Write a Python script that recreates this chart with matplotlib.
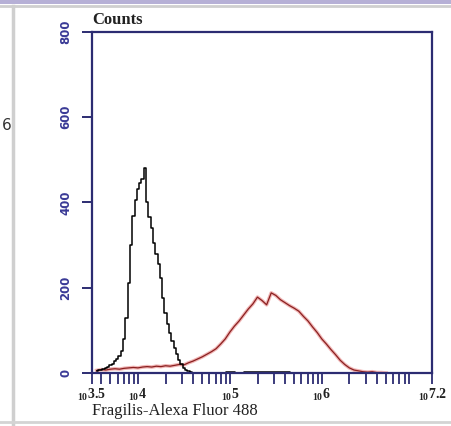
import numpy as np
import matplotlib
matplotlib.use('Agg')
import matplotlib.pyplot as plt
from matplotlib.lines import Line2D
from matplotlib.patches import Rectangle

plt.rcParams['mathtext.fontset'] = 'custom'
plt.rcParams['mathtext.rm'] = 'Liberation Serif'
plt.rcParams['mathtext.bf'] = 'Liberation Serif:bold'

# black histogram (control), log10 of intensity vs counts
black_log = [3.550, 3.575, 3.600, 3.625, 3.650, 3.675, 3.700, 3.725, 3.750, 3.775,
             3.800, 3.825, 3.850, 3.875, 3.900, 3.925, 3.950, 3.975, 4.000, 4.025,
             4.050, 4.075, 4.100, 4.125, 4.150, 4.175, 4.200, 4.225, 4.250, 4.275,
             4.300, 4.325, 4.350, 4.375, 4.400, 4.425, 4.450, 4.475, 4.500, 4.525,
             4.550, 4.575, 4.600, 4.700, 4.800, 4.900, 5.000, 5.100, 5.200, 5.300,
             5.400, 5.500, 5.600, 5.700, 5.800, 5.900, 6.000]
black_counts = [5, 6, 8, 10, 12, 15, 19, 22, 27, 33,
                40, 52, 80, 130, 210, 300, 368, 405, 432, 445,
                455, 482, 400, 365, 340, 305, 280, 255, 222, 175,
                140, 115, 95, 75, 58, 45, 30, 20, 12, 7,
                4, 2, 1, 1, 0, 1, 2, 1, 3, 2,
                3, 2, 2, 1, 1, 0, 0]

# red histogram (Fragilis stained)
red_log = [3.55, 3.60, 3.65, 3.70, 3.75, 3.80, 3.85, 3.90, 3.95, 4.00,
           4.05, 4.10, 4.15, 4.20, 4.25, 4.30, 4.35, 4.40, 4.45, 4.50,
           4.55, 4.60, 4.65, 4.70, 4.75, 4.80, 4.85, 4.90, 4.95, 5.00,
           5.05, 5.10, 5.15, 5.20, 5.25, 5.30, 5.35, 5.40, 5.45, 5.50,
           5.55, 5.60, 5.65, 5.70, 5.75, 5.80, 5.85, 5.90, 5.95, 6.00,
           6.05, 6.10, 6.15, 6.20, 6.25, 6.30, 6.35, 6.40, 6.45, 6.50,
           6.55, 6.60, 6.65, 6.70]
red_counts = [6, 8, 7, 9, 10, 9, 11, 12, 13, 12,
              14, 15, 14, 16, 15, 17, 16, 18, 20, 19,
              24, 28, 33, 38, 44, 50, 57, 68, 80, 96,
              110, 122, 136, 150, 162, 178, 170, 160, 188, 182,
              172, 165, 158, 152, 145, 133, 122, 108, 95, 80,
              68, 55, 43, 30, 20, 12, 7, 5, 3, 2,
              3, 1, 1, 0]

y_ticks = [0, 200, 400, 600, 800]
x_tick_exps = [3.5, 4, 5, 6, 7.2]
x_tick_labels = ['3.5', '4', '5', '6', '7.2']

navy = '#2c2c72'

fig = plt.figure(figsize=(4.51, 4.26), dpi=100)
ax = fig.add_axes([0.204, 0.1244, 0.754, 0.8005])

bx = 10 ** np.array(black_log)
rx = 10 ** np.array(red_log)
ax.plot(rx, red_counts, color='#e57b7b', lw=2.6, alpha=0.55)
ax.plot(rx, red_counts, color='#8a1f1f', lw=0.9)
ax.plot(bx, black_counts, color='black', lw=1.1, drawstyle='steps-mid')

ax.set_xscale('log')
ax.set_xlim(10 ** 3.5, 10 ** 7.2)
ax.set_ylim(0, 800)

for s in ax.spines.values():
    s.set_color(navy)
    s.set_linewidth(1.6)

ax.set_yticks(y_ticks)
ax.set_yticklabels([str(v) for v in y_ticks], rotation=90, va='center',
                   color='#3a3a96', fontsize=8.5, fontweight='bold')
ax.tick_params(axis='y', direction='out', length=7, width=1.4, color=navy, pad=7)

ax.set_xticks([10 ** e for e in x_tick_exps])
ax.set_xticklabels([r'${}_{\mathbf{10}}\mathbf{%s}$' % t for t in x_tick_labels],
                   fontsize=10, color='#222222')
minor = [m * 10 ** d for d in range(3, 7) for m in range(2, 10)
         if 10 ** 3.5 < m * 10 ** d < 10 ** 7.2]
ax.set_xticks(minor, minor=True)
ax.xaxis.set_minor_formatter(plt.NullFormatter())
ax.tick_params(axis='x', which='both', direction='out', length=8, width=1.3,
               color=navy, pad=2)

ax.text(0.0, 1.012, 'Counts', transform=ax.transAxes, fontsize=12,
        fontweight='bold', family='Liberation Serif', color='#222222',
        ha='left', va='bottom')
ax.set_xlabel('Fragilis-Alexa Fluor 488', fontsize=12, family='Liberation Serif',
              color='#222222', loc='left', labelpad=0)

# surrounding frame from the original figure panel
fig.add_artist(Rectangle((0, 0.99), 1, 0.01, transform=fig.transFigure,
                         color='#b6b0d6', lw=0))
fig.add_artist(Line2D([0, 1], [0.986, 0.986], transform=fig.transFigure,
                      color='#cfcfcf', lw=2))
fig.add_artist(Line2D([0.028, 0.028], [0, 0.986], transform=fig.transFigure,
                      color='#cfcfcf', lw=2.5))
fig.add_artist(Line2D([0, 1], [0.01, 0.01], transform=fig.transFigure,
                      color='#d4d4d4', lw=2))
fig.text(0.004, 0.706, '6', fontsize=11, color='#333333', ha='left', va='center')

fig.savefig('out.png', dpi=100)
